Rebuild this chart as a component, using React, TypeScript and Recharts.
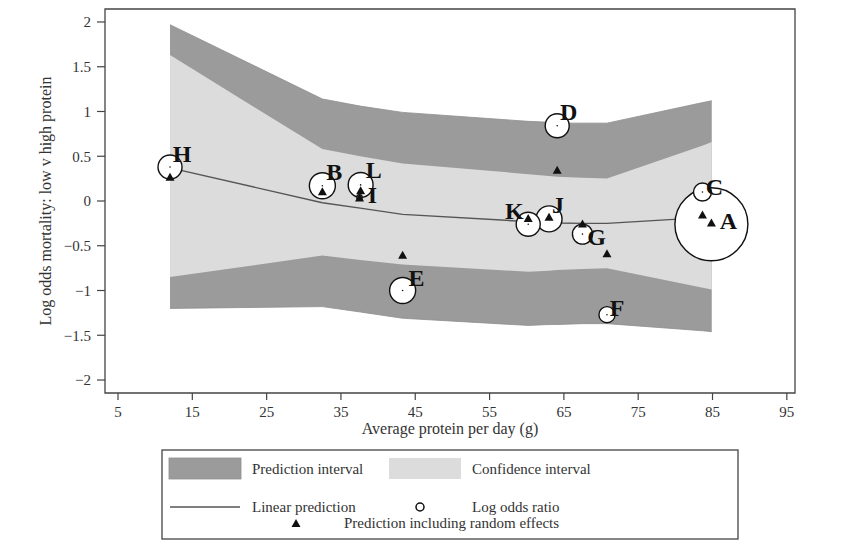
import React from 'react';
import { Area, ComposedChart, Line, ReferenceArea, Scatter, XAxis, YAxis } from 'recharts';

// fitted meta-regression, one vertex per study (sorted by protein)
const protein = [12, 32.5, 37.6, 43.3, 60.2, 63.0, 64.1, 67.5, 70.8, 83.7, 84.9];
const predHi = [1.97, 1.14, 1.06, 0.99, 0.89, 0.88, 0.87, 0.87, 0.87, 1.1, 1.12];
const confHi = [1.63, 0.58, 0.5, 0.42, 0.3, 0.28, 0.27, 0.26, 0.25, 0.62, 0.66];
const linPred = [0.37, -0.02, -0.08, -0.15, -0.23, -0.24, -0.245, -0.25, -0.25, -0.186, -0.18];
const confLo = [-0.85, -0.61, -0.66, -0.71, -0.79, -0.78, -0.77, -0.76, -0.75, -0.97, -0.99];
const predLo = [-1.2, -1.18, -1.24, -1.31, -1.39, -1.38, -1.38, -1.37, -1.37, -1.45, -1.46];

// studies
const studyIds = ['H', 'B', 'L', 'I', 'E', 'K', 'J', 'D', 'G', 'F', 'C', 'A'];
const studyProtein = [12.0, 32.5, 37.65, 37.5, 43.3, 60.2, 63.0, 64.1, 67.5, 70.8, 83.65, 84.85];
const logOddsRatio = [0.38, 0.17, 0.18, 0.04, -1.0, -0.26, -0.2, 0.84, -0.37, -1.27, 0.1, -0.26];
const studyWeight = [4.0, 4.7, 4.3, 0.2, 4.7, 4.0, 4.7, 4.0, 2.8, 1.8, 2.25, 37];
const randomPred = [0.27, 0.11, 0.12, 0.04, -0.6, -0.19, -0.175, 0.35, -0.25, -0.585, -0.15, -0.24];

const xTicks = [5, 15, 25, 35, 45, 55, 65, 75, 85, 95];
const yTicks = [-2, -1.5, -1, -0.5, 0, 0.5, 1, 1.5, 2];

const bands = protein.map((x, i) => ({
  x,
  pi: [predLo[i], predHi[i]],
  ci: [confLo[i], confHi[i]],
  fit: linPred[i],
}));
// biggest circles first so small ones stay visible
const circles = studyIds
  .map((id, i) => ({ id, x: studyProtein[i], y: logOddsRatio[i], w: studyWeight[i] }))
  .sort((a, b) => b.w - a.w);
const triangles = studyIds.map((id, i) => ({ id, x: studyProtein[i], y: randomPred[i] }));

// marker label placement (dx, dy in px from marker centre)
const labelOffset: Record<string, [number, number]> = {
  H: [12, -13], B: [12, -14], L: [13, -15], I: [13, -2], E: [14, -13], K: [-14, -13],
  J: [9, -14], D: [11.5, -14], G: [14, 3], F: [10, -7], C: [12, -5], A: [17, -3],
};

const FONT = '"Liberation Serif", "Times New Roman", serif';
const AXIS = '#444';
const DARK = '#9b9b9b';
const LIGHT = '#dcdcdc';

const fmt = (v: number) => (v < 0 ? '\u2212' + Math.abs(v) : String(v));

const CircleMark = (props: any) => {
  const { cx, cy, payload } = props;
  const r = 6 * Math.sqrt(payload.w);
  const [dx, dy] = labelOffset[payload.id];
  return (
    <g>
      <circle cx={cx} cy={cy} r={r} fill="#fff" stroke="#111" strokeWidth={1.4} />
      <circle cx={cx} cy={cy} r={0.8} fill="#111" />
      <text x={cx + dx} y={cy + dy} textAnchor="middle" dominantBaseline="central"
        fontFamily={FONT} fontWeight="bold" fontSize={24} fill="#111">{payload.id}</text>
    </g>
  );
};

const TriangleMark = (props: any) => {
  const { cx, cy } = props;
  return <polygon points={`${cx - 4.5},${cy + 4} ${cx + 4.5},${cy + 4} ${cx},${cy - 4}`} fill="#111" />;
};

const legendText = { fontFamily: FONT, fontSize: 15, fill: '#333' } as const;

export default function App() {
  return (
    <div style={{ position: 'absolute', left: 0, top: 0, width: 850, height: 554, background: '#fff' }}>
      <ComposedChart width={850} height={554} data={bands} margin={{ top: 9, right: 55, bottom: 111, left: 0 }}>
        <XAxis type="number" dataKey="x" domain={[3.25, 96.1]} ticks={xTicks} allowDataOverflow
          height={50} axisLine={false} tickSize={7} tickMargin={6}
          tickLine={{ stroke: AXIS, strokeWidth: 1.2 }}
          tick={{ fill: '#333', fontSize: 15, fontFamily: FONT }}
          label={{
            content: (p: any) => (
              <text x={p.viewBox.x + p.viewBox.width / 2} y={p.viewBox.y + 41} textAnchor="middle"
                fontFamily={FONT} fontSize={16} fill="#333">Average protein per day (g)</text>
            ),
          }} />
        <YAxis type="number" domain={[-2.145, 2.145]} ticks={yTicks} allowDataOverflow
          width={105} axisLine={false} tickSize={8} tickMargin={6} tickFormatter={fmt}
          tickLine={{ stroke: AXIS, strokeWidth: 1.2 }}
          tick={{ fill: '#333', fontSize: 15, fontFamily: FONT }}
          label={{
            content: (p: any) => {
              const cx = p.viewBox.x + 45;
              const cy = p.viewBox.y + p.viewBox.height / 2;
              return (
                <text transform={`translate(${cx},${cy}) rotate(-90)`} textAnchor="middle" dominantBaseline="central"
                  fontFamily={FONT} fontSize={16} fill="#333">Log odds mortality: low v high protein</text>
              );
            },
          }} />
        <Area dataKey="pi" type="linear" fill={DARK} fillOpacity={1} stroke="#8e8e8e" strokeWidth={0.8} isAnimationActive={false} />
        <Area dataKey="ci" type="linear" fill={LIGHT} fillOpacity={1} stroke="none" isAnimationActive={false} />
        <Line dataKey="fit" type="linear" stroke="#555" strokeWidth={1.4} dot={false} isAnimationActive={false} />
        <Scatter data={circles} dataKey="y" shape={CircleMark} isAnimationActive={false} />
        <Scatter data={triangles} dataKey="y" shape={TriangleMark} isAnimationActive={false} />
        <ReferenceArea x1={3.25} x2={96.1} y1={-2.145} y2={2.145} fill="none" fillOpacity={0} stroke={AXIS} strokeWidth={1.3} />
      </ComposedChart>
      <svg width={850} height={554} style={{ position: 'absolute', left: 0, top: 0, pointerEvents: 'none' }}>
        <rect x={162} y={450} width={576} height={89} fill="none" stroke={AXIS} strokeWidth={1.3} />
        <rect x={169} y={458} width={72} height={21} fill={DARK} stroke="#8e8e8e" strokeWidth={0.8} />
        <text x={252} y={469} dominantBaseline="central" {...legendText}>Prediction interval</text>
        <rect x={389} y={458} width={72} height={21} fill={LIGHT} />
        <text x={472} y={469} dominantBaseline="central" {...legendText}>Confidence interval</text>
        <line x1={170} x2={240} y1={507} y2={507} stroke="#555" strokeWidth={1.4} />
        <text x={252} y={507} dominantBaseline="central" {...legendText}>Linear prediction</text>
        <circle cx={420} cy={507} r={4} fill="#fff" stroke="#111" strokeWidth={1.5} />
        <text x={472} y={507} dominantBaseline="central" {...legendText}>Log odds ratio</text>
        <polygon points="291.5,527 300.5,527 296,519" fill="#111" />
        <text x={344} y={523} dominantBaseline="central" {...legendText}>Prediction including random effects</text>
      </svg>
    </div>
  );
}
